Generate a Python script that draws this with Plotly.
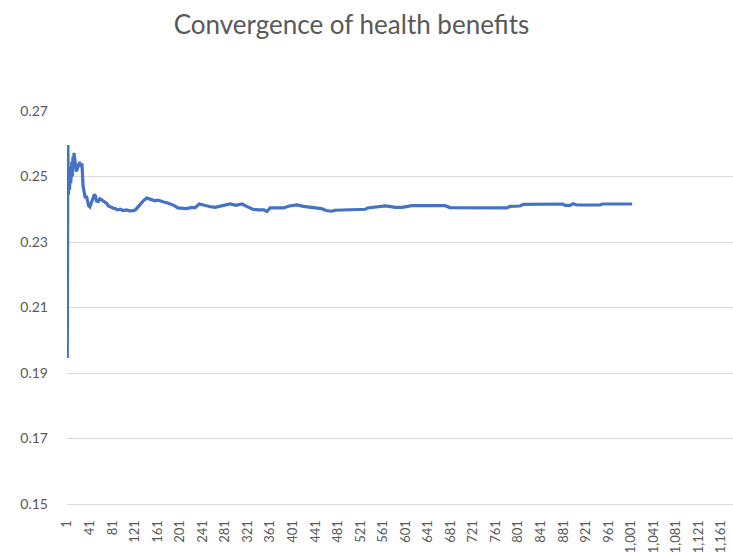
import plotly.graph_objects as go

categories = [1, 2, 3, 4, 5, 6, 7, 8, 9, 10, 11, 12, 13, 14, 15, 17, 19, 21, 23, 25, 27, 29, 31, 33, 35,
              37, 39, 41, 43, 46, 49, 51, 53, 56, 59, 62, 65, 68, 71, 74, 78, 82, 86, 90, 95, 100, 106,
              112, 118, 122, 127, 132, 137, 142, 147, 152, 157, 162, 167, 172, 178, 184, 190, 197, 205,
              212, 220, 228, 235, 240, 250, 257, 263, 272, 280, 290, 300, 311, 320, 330, 340, 350, 355,
              361, 372, 384, 395, 408, 420, 432, 443, 452, 460, 470, 476, 490, 505, 520, 530, 534, 545,
              558, 565, 575, 582, 595, 605, 612, 640, 671, 680, 720, 760, 781, 786, 804, 810, 840, 880,
              884, 893, 898, 905, 925, 946, 950, 980, 1003]
values = [0.1946, 0.2596, 0.2444, 0.2520, 0.2460, 0.2530, 0.2480, 0.2500, 0.2545, 0.2500, 0.2560,
          0.2540, 0.2572, 0.2550, 0.2530, 0.2515, 0.2525, 0.2535, 0.2544, 0.2530, 0.2540, 0.2470,
          0.2445, 0.2434, 0.2440, 0.2420, 0.2410, 0.2407, 0.2420, 0.2430, 0.2446, 0.2440, 0.2425,
          0.2424, 0.2432, 0.2428, 0.2426, 0.2420, 0.2418, 0.2410, 0.2406, 0.2404, 0.2402, 0.2398,
          0.2400, 0.2396, 0.2398, 0.2395, 0.2396, 0.2398, 0.2408, 0.2418, 0.2428, 0.2434, 0.2432,
          0.2430, 0.2426, 0.2428, 0.2424, 0.2422, 0.2420, 0.2416, 0.2412, 0.2404, 0.2404, 0.2402,
          0.2405, 0.2405, 0.2416, 0.2414, 0.2408, 0.2407, 0.2406, 0.2410, 0.2414, 0.2416, 0.2412,
          0.2416, 0.2408, 0.2400, 0.2398, 0.2398, 0.2393, 0.2404, 0.2404, 0.2404, 0.2410, 0.2413,
          0.2409, 0.2407, 0.2403, 0.2402, 0.2396, 0.2394, 0.2397, 0.2398, 0.2398, 0.2399, 0.2400,
          0.2404, 0.2406, 0.2410, 0.2410, 0.2408, 0.2406, 0.2406, 0.2408, 0.2411, 0.2411, 0.2411,
          0.2405, 0.2404, 0.2404, 0.2404, 0.2409, 0.2410, 0.2415, 0.2416, 0.2416, 0.2412, 0.2412,
          0.2417, 0.2413, 0.2413, 0.2413, 0.2416, 0.2416, 0.2416]

x_tick_vals = list(range(1, 1162, 40))
x_tick_text = [f"{v:,}" for v in x_tick_vals]
y_tick_vals = [0.15, 0.17, 0.19, 0.21, 0.23, 0.25, 0.27]
y_tick_text = ["0.15", "0.17", "0.19", "0.21", "0.23", "0.25", "0.27"]

title_text = "Convergence of health benefits"

fig = go.Figure()
fig.add_trace(go.Scatter(
    x=categories, y=values, mode="lines",
    line=dict(color="#4472C4", width=3.2),
    hoverinfo="skip", showlegend=False,
))

font_family = "Lato, Carlito, Calibri, sans-serif"

fig.update_layout(
    width=733, height=553,
    margin=dict(l=67, r=0, t=111, b=49),
    paper_bgcolor="white", plot_bgcolor="white",
    title=dict(text=title_text, x=0.4795, xanchor="center", y=0.955, yanchor="middle",
               font=dict(family=font_family, size=26, color="#595959")),
    font=dict(family=font_family, color="#595959"),
    showlegend=False,
)
fig.update_xaxes(
    range=[0.5, 1182], tickmode="array", tickvals=x_tick_vals, ticktext=x_tick_text,
    tickangle=-90, tickfont=dict(size=13, color="#595959"),
    showgrid=False, zeroline=False, showline=True, linecolor="#D9D9D9", linewidth=1,
    ticks="", ticklabelstandoff=10, automargin=False,
)
fig.update_yaxes(
    range=[0.15, 0.27], tickmode="array", tickvals=y_tick_vals, ticktext=y_tick_text,
    tickfont=dict(size=14, color="#595959"),
    showgrid=True, gridcolor="#D9D9D9", gridwidth=1, zeroline=False, showline=False,
    ticks="", ticklabelstandoff=18, automargin=False,
)

fig.write_html("out.html", config={"displayModeBar": False},
               post_script="document.body.style.margin='0';document.body.style.padding='0';")
